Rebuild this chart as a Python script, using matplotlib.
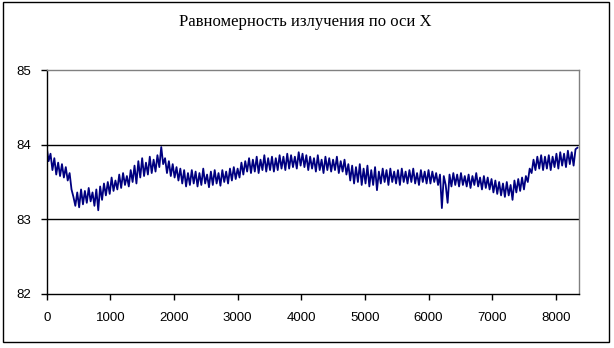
import numpy as np
import matplotlib
matplotlib.use("Agg")
import matplotlib.pyplot as plt
from matplotlib.patches import Rectangle

TITLE = "Равномерность излучения по оси X"
X_STEP = 30  # spacing of the samples
X_TICKS = [0, 1000, 2000, 3000, 4000, 5000, 6000, 7000, 8000]
Y_TICKS = [82, 83, 84, 85]

# values, one every 30 units
values = [
    83.97, 83.78, 83.88, 83.66, 83.82, 83.60, 83.76, 83.58, 83.74, 83.56,
    83.70, 83.52, 83.62, 83.40, 83.30, 83.18, 83.36, 83.16, 83.40, 83.20,
    83.38, 83.22, 83.42, 83.24, 83.36, 83.18, 83.40, 83.12, 83.44, 83.26,
    83.48, 83.32, 83.50, 83.34, 83.56, 83.38, 83.52, 83.40, 83.60, 83.42,
    83.62, 83.46, 83.58, 83.44, 83.66, 83.50, 83.72, 83.48, 83.78, 83.56,
    83.82, 83.58, 83.76, 83.60, 83.84, 83.62, 83.80, 83.64, 83.86, 83.70,
    83.97, 83.74, 83.82, 83.62, 83.78, 83.58, 83.74, 83.56, 83.70, 83.52,
    83.68, 83.48, 83.66, 83.44, 83.62, 83.46, 83.66, 83.48, 83.64, 83.44,
    83.62, 83.46, 83.68, 83.48, 83.60, 83.43, 83.64, 83.46, 83.66, 83.48,
    83.62, 83.45, 83.66, 83.50, 83.64, 83.48, 83.68, 83.52, 83.70, 83.54,
    83.68, 83.56, 83.76, 83.60, 83.78, 83.64, 83.82, 83.62, 83.80, 83.64,
    83.84, 83.62, 83.80, 83.66, 83.86, 83.64, 83.82, 83.66, 83.84, 83.64,
    83.82, 83.66, 83.86, 83.68, 83.84, 83.66, 83.88, 83.68, 83.86, 83.70,
    83.84, 83.68, 83.90, 83.72, 83.88, 83.70, 83.86, 83.66, 83.84, 83.68,
    83.82, 83.64, 83.86, 83.66, 83.80, 83.62, 83.84, 83.66, 83.82, 83.64,
    83.80, 83.66, 83.84, 83.62, 83.78, 83.64, 83.80, 83.60, 83.74, 83.52,
    83.72, 83.48, 83.70, 83.50, 83.74, 83.46, 83.68, 83.48, 83.72, 83.44,
    83.66, 83.46, 83.70, 83.39, 83.64, 83.48, 83.68, 83.50, 83.66, 83.46,
    83.68, 83.50, 83.64, 83.48, 83.66, 83.46, 83.68, 83.50, 83.64, 83.48,
    83.66, 83.50, 83.68, 83.48, 83.62, 83.46, 83.66, 83.50, 83.64, 83.48,
    83.66, 83.48, 83.64, 83.50, 83.62, 83.46, 83.60, 83.15, 83.58, 83.46,
    83.22, 83.60, 83.44, 83.62, 83.46, 83.60, 83.44, 83.62, 83.46, 83.58,
    83.44, 83.60, 83.42, 83.58, 83.46, 83.62, 83.44, 83.56, 83.40, 83.58,
    83.42, 83.56, 83.40, 83.54, 83.36, 83.52, 83.34, 83.50, 83.32, 83.48,
    83.30, 83.50, 83.32, 83.46, 83.26, 83.52, 83.36, 83.54, 83.38, 83.56,
    83.40, 83.58, 83.50, 83.68, 83.62, 83.80, 83.66, 83.84, 83.68, 83.86,
    83.66, 83.84, 83.68, 83.86, 83.66, 83.84, 83.70, 83.88, 83.68, 83.90,
    83.72, 83.88, 83.70, 83.92, 83.74, 83.90, 83.72, 83.94, 83.96,
]

x = np.arange(len(values)) * X_STEP

fig = plt.figure(figsize=(6.14, 3.48), dpi=100)
W, H = 614, 348
ax = fig.add_axes([46.7 / W, 1 - 293.7 / H, (578.7 - 46.7) / W, (293.7 - 70.3) / H])

ax.plot(x, values, color='#000080', lw=1.3)

ax.set_xlim(0, 8360)
ax.set_ylim(82, 85)
ax.set_xticks(X_TICKS)
ax.set_yticks(Y_TICKS)
for yv in Y_TICKS[1:3]:
    ax.axhline(yv, color='black', lw=1, zorder=0.5)

ax.spines['left'].set_color('black')
ax.spines['bottom'].set_color('black')
ax.spines['top'].set_color('#808080')
ax.spines['right'].set_color('#808080')
for s in ax.spines.values():
    s.set_linewidth(1)

ax.tick_params(axis='both', direction='out', length=4, width=1, color='black',
               labelsize=9.5)
ax.tick_params(axis='y', pad=7)
ax.tick_params(axis='x', pad=9)
for lbl in ax.get_xticklabels() + ax.get_yticklabels():
    lbl.set_family('Liberation Sans')

fig.text(0.497, 1 - 22 / H, TITLE, ha='center', va='center',
         family='Liberation Serif', fontsize=12)

# outer chart frame
fig.patches.append(Rectangle((3 / W, 1 - 342 / H), 606 / W, 340 / H,
                             transform=fig.transFigure, fill=False,
                             edgecolor='black', lw=1))

fig.savefig('out.png', dpi=100)
